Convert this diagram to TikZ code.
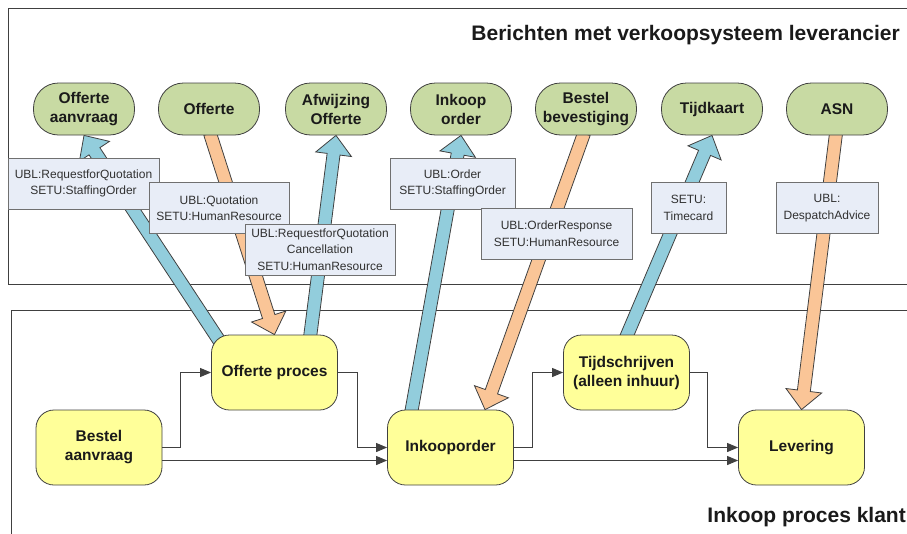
\documentclass[tikz,border=0pt]{standalone}
\usepackage{fontspec}
\setmainfont{Liberation Sans}
\usetikzlibrary{calc,arrows.meta,backgrounds}
\definecolor{greenfill}{HTML}{C8DAA3}
\definecolor{yellowfill}{HTML}{FFFF99}
\definecolor{bluearrow}{HTML}{92CDDC}
\definecolor{orangearrow}{HTML}{FAC597}
\definecolor{labelfill}{HTML}{E8EDF7}
\definecolor{edge}{HTML}{404040}
\definecolor{lbledge}{HTML}{707070}
\definecolor{txt}{HTML}{1A1A1A}
\tikzset{
 msg/.style={draw=edge, line width=0.8pt, fill=greenfill, rounded corners=25pt, minimum width=101pt, minimum height=52pt, align=center, font=\fontsize{15.5}{19}\selectfont\bfseries, text=txt, inner sep=0pt},
 proc/.style={draw=edge, line width=0.8pt, fill=yellowfill, rounded corners=18pt, minimum width=126pt, minimum height=75pt, align=center, font=\fontsize{15.5}{19}\selectfont\bfseries, text=txt, inner sep=0pt},
 lbl/.style={draw=lbledge, line width=0.8pt, fill=labelfill, minimum height=51pt, align=center, font=\fontsize{12}{16.5}\selectfont, text=txt!90, inner sep=0pt},
 flow/.style={draw=edge, line width=0.9pt, -{Triangle[length=11pt,width=9pt]}},
 framebox/.style={draw=edge, line width=1pt},
 titletext/.style={font=\fontsize{21}{24}\selectfont\bfseries, text=txt, inner sep=0pt}
}
\newcommand\blockarrow[3]{%
  \coordinate (bneck) at ($(#2)!19pt!(#1)$);
  \filldraw[fill=#3, draw=edge, line width=0.8pt, line join=miter]
    ($(#1)!6.5pt!90:(#2)$) -- ($(bneck)!6.5pt!90:(#2)$) -- ($(bneck)!18pt!90:(#2)$)
    -- (#2) -- ($(bneck)!18pt!-90:(#2)$) -- ($(bneck)!6.5pt!-90:(#2)$)
    -- ($(#1)!6.5pt!-90:(#2)$) -- cycle;}
\begin{document}
\begin{tikzpicture}[x=1pt,y=-1pt]
\useasboundingbox (0,0) rectangle (907,533);
% message terminators
\node[msg] (oa) at (84,109) {Offerte\\aanvraag};
\node[msg] (of) at (209,109) {Offerte};
\node[msg] (ao) at (336,109) {Afwijzing\\Offerte};
\node[msg] (io) at (461,109) {Inkoop\\order};
\node[msg] (bb) at (586,109) {Bestel\\bevestiging};
\node[msg] (tk) at (712,109) {Tijdkaart};
\node[msg] (asn) at (837,109) {ASN};
% process steps
\node[proc] (ba) at (99,447.5) {Bestel\\aanvraag};
\node[proc] (op) at (274.5,372.5) {Offerte proces};
\node[proc] (ik) at (450.5,447.5) {Inkooporder};
\node[proc] (ts) at (626.5,372.5) {Tijdschrijven\\(alleen inhuur)};
\node[proc] (lv) at (801.5,447.5) {Levering};
% titles
\node[titletext, anchor=base east] (t1) at (900,40) {Berichten met verkoopsysteem leverancier};
\node[titletext, anchor=base east] (t2) at (906,522) {Inkoop proces klant};
% arrow end points
\coordinate (a1s) at ([xshift=-54pt,yshift=-8pt]op.north);
\coordinate (a2s) at ([xshift=1pt,yshift=2pt]of.south);
\coordinate (a3s) at ([xshift=35.5pt,yshift=-3pt]op.north);
\coordinate (a4s) at ([xshift=-39.5pt,yshift=-4pt]ik.north);
\coordinate (a5s) at ([xshift=-2pt,yshift=2pt]bb.south);
\coordinate (a5e) at ([xshift=34.5pt]ik.north);
\coordinate (a6s) at ([xshift=-0.5pt,yshift=-3pt]ts.north);
\coordinate (a7s) at ([xshift=-1pt,yshift=2pt]asn.south);
\begin{scope}[on background layer]
  \draw[framebox] (915,8) -- (8,8) -- (8,284) -- (915,284);
  \draw[framebox] (915,310) -- (11.5,310) -- (11.5,540);
  \blockarrow{a1s}{oa.south}{bluearrow}
  \blockarrow{a2s}{op.north}{orangearrow}
  \blockarrow{a3s}{ao.south}{bluearrow}
  \blockarrow{a4s}{io.south}{bluearrow}
  \blockarrow{a5s}{a5e}{orangearrow}
  \blockarrow{a6s}{tk.south}{bluearrow}
  \blockarrow{a7s}{lv.north}{orangearrow}
\end{scope}
% message labels
\node[lbl, minimum width=151pt] (la) at (83.5,183.5) {UBL:RequestforQuotation\\SETU:StaffingOrder};
\node[lbl, minimum width=140pt] (lb) at (219,208) {UBL:Quotation\\SETU:HumanResource};
\node[lbl, minimum width=150pt] (lc) at (320,249.5) {UBL:RequestforQuotation\\Cancellation\\SETU:HumanResource};
\node[lbl, minimum width=125pt] (ld) at (452.5,183.5) {UBL:Order\\SETU:StaffingOrder};
\node[lbl, minimum width=151pt] (le) at (556.5,233.5) {UBL:OrderResponse\\SETU:HumanResource};
\node[lbl, minimum width=75pt] (lf) at (688.5,208) {SETU:\\Timecard};
\node[lbl, minimum width=102pt] (lg) at (827,208) {UBL:\\DespatchAdvice};
% process flow
\draw[flow] (ba.east) -- ++(18,0) |- (op.west);
\draw[flow] ([yshift=-13pt]ba.east) -- ([yshift=-13pt]ik.west);
\draw[flow] (op.east) -- ++(20,0) |- (ik.west);
\draw[flow] (ik.east) -- ++(19,0) |- (ts.west);
\draw[flow] ([yshift=-13pt]ik.east) -- ([yshift=-13pt]lv.west);
\draw[flow] (ts.east) -- ++(18,0) |- (lv.west);
\end{tikzpicture}
\end{document}
